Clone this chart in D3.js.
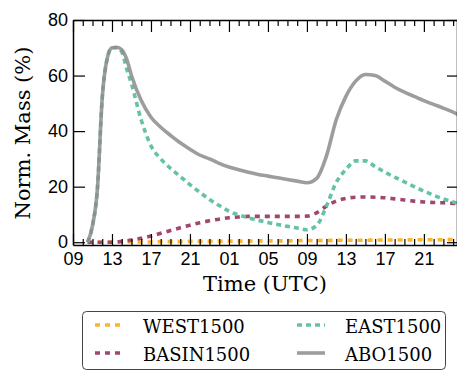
<!DOCTYPE html>
<html>
<head>
<meta charset="utf-8">
<script src="https://cdn.jsdelivr.net/npm/d3@7"></script>
<style>
  body { margin: 0; background: #fff; }
  svg { display: block; font-family: "DejaVu Serif", serif; }
</style>
</head>
<body>
<div id="chart"></div>
<script>
// hours since 09 UTC on day one
const hours = [1.5, 2, 2.5, 3, 3.5, 4, 4.5, 5, 5.5,
  6, 7, 8, 9, 10, 11, 12, 13, 14, 15, 16, 17, 18, 19, 20, 21, 22, 23, 24,
  25, 26, 27, 28, 29, 30, 31, 32, 33, 34, 35, 36, 37, 38, 39, 39.5];

const west = [0, 0, 0, 0, 0, 0.1, 0.1, 0.1, 0.1,
  0.1, 0.1, 0.1, 0.2, 0.2, 0.2, 0.3, 0.3, 0.3, 0.3, 0.4, 0.4, 0.4, 0.5, 0.5, 0.5, 0.5, 0.6, 0.6,
  0.6, 0.6, 0.7, 0.7, 0.7, 0.7, 0.8, 0.8, 0.8, 0.8, 0.9, 0.9, 0.9, 0.9, 1.0, 1.0];

const basin = [0, 0, 0, 0, 0, 0, 0.1, 0.3, 0.5,
  0.8, 1.4, 2.2, 3.2, 4.2, 5.2, 6.1, 7.0, 7.7, 8.3, 8.8, 9.1, 9.3, 9.3, 9.3, 9.3, 9.3, 9.3, 9.4,
  10.6, 13.0, 14.8, 15.8, 16.2, 16.3, 16.2, 16.0, 15.6, 15.2, 14.8, 14.5, 14.3, 14.2, 14.0, 14.0];

const east = [0, 6, 19, 52, 66, 70, 70, 68.5, 62.5,
  57, 44, 34.7, 30, 26.6, 23.7, 20.7, 18, 15.4, 13.2, 11.2, 9.8, 8.8, 7.9, 7.1, 6.4, 5.7, 5.1, 4.5,
  6, 13, 21.5, 26.2, 29.3, 29.3, 27.2, 25.2, 23.4, 21.7, 20, 18.4, 16.9, 15.6, 14.5, 14];

const abo = [0, 6, 19, 52, 66, 70, 70.2, 69.3, 66,
  60, 51, 45, 41.4, 38.5, 35.8, 33.5, 31.4, 30, 28.4, 27.1, 26.1, 25.2, 24.4, 23.8, 23.2, 22.6, 22, 21.4,
  23, 31, 44, 52.5, 58, 60.4, 60, 58, 55.8, 54, 52.5, 51, 49.6, 48.3, 46.8, 46];

const xTickHours = [0, 4, 8, 12, 16, 20, 24, 28, 32, 36];
const xTickLabels = ["09", "13", "17", "21", "01", "05", "09", "13", "17", "21"];
const yTicks = [0, 20, 40, 60, 80];

const seriesNames = ["WEST1500", "BASIN1500", "EAST1500", "ABO1500"];
const seriesValues = [west, basin, east, abo];
const seriesColors = ["#fdb42f", "#a1466f", "#66c2a5", "#8c8c8c"];
const seriesDash = ["5,5", "5,5", "5,4", null];

const width = 457;
const height = 373;
const margin = { top: 20, right: 0, bottom: 128, left: 73 };

const svg = d3.select("#chart")
  .append("svg")
  .attr("width", width)
  .attr("height", height);

const x = d3.scaleLinear()
  .domain([0, 39.5])
  .range([margin.left, 458]);

const y = d3.scaleLinear()
  .domain([-1, 80])
  .range([245, margin.top]);

svg.append("clipPath")
  .attr("id", "clip")
  .append("rect")
  .attr("x", x.range()[0])
  .attr("y", y.range()[1])
  .attr("width", x.range()[1] - x.range()[0])
  .attr("height", y.range()[0] - y.range()[1]);

const line = d3.line()
  .x(d => x(d[0]))
  .y(d => y(d[1]))
  .curve(d3.curveMonotoneX);

const plot = svg.append("g").attr("clip-path", "url(#clip)");

seriesValues.forEach((vals, i) => {
  plot.append("path")
    .datum(hours.map((h, j) => [h, vals[j]]))
    .attr("fill", "none")
    .attr("stroke", seriesColors[i])
    .attr("stroke-width", 3.6)
    .attr("stroke-opacity", i === 3 ? 0.85 : 1)
    .attr("stroke-dasharray", seriesDash[i])
    .attr("d", line);
});

// axes
const minorHours = d3.range(0, 40, 1);

svg.append("g")
  .attr("transform", `translate(0,${y.range()[0]})`)
  .call(d3.axisBottom(x).tickValues(xTickHours).tickFormat((d, i) => xTickLabels[i])
    .tickSizeInner(-11).tickSizeOuter(0).tickPadding(7))
  .call(g => g.selectAll("text").style("font-size", "18px").attr("fill", "#000"))
  .call(g => g.select(".domain").attr("stroke-width", 1.5));

svg.append("g")
  .attr("transform", `translate(0,${y.range()[0]})`)
  .call(d3.axisBottom(x).tickValues(minorHours.filter(h => h % 4 !== 0))
    .tickSizeInner(-6).tickSizeOuter(0).tickFormat(""))
  .call(g => g.select(".domain").remove());

svg.append("g")
  .attr("transform", `translate(0,${y.range()[1]})`)
  .call(d3.axisTop(x).tickValues(xTickHours).tickSizeInner(-12).tickSizeOuter(0).tickFormat(""))
  .call(g => g.select(".domain").attr("stroke-width", 1.5));

svg.append("g")
  .attr("transform", `translate(0,${y.range()[1]})`)
  .call(d3.axisTop(x).tickValues(minorHours.filter(h => h % 4 !== 0))
    .tickSizeInner(-6).tickSizeOuter(0).tickFormat(""))
  .call(g => g.select(".domain").remove());

svg.append("g")
  .attr("transform", `translate(${x.range()[0]},0)`)
  .call(d3.axisLeft(y).tickValues(yTicks).tickSizeInner(-12).tickSizeOuter(0).tickPadding(5))
  .call(g => g.selectAll("text").style("font-size", "18px").attr("fill", "#000"))
  .call(g => g.select(".domain").attr("stroke-width", 1.5));

svg.append("g")
  .attr("transform", `translate(${x.range()[1] - 1},0)`)
  .call(d3.axisRight(y).tickValues(yTicks).tickSizeInner(-10).tickSizeOuter(0).tickFormat(""))
  .call(g => g.select(".domain").attr("stroke-width", 1.5));

svg.selectAll(".tick line").attr("stroke", "#000").attr("stroke-width", 1.2);

svg.append("text")
  .attr("x", (73 + 457) / 2)
  .attr("y", 291)
  .attr("text-anchor", "middle")
  .style("font-size", "21px")
  .text("Time (UTC)");

svg.append("text")
  .attr("transform", "rotate(-90)")
  .attr("x", -133)
  .attr("y", 30)
  .attr("text-anchor", "middle")
  .style("font-size", "21px")
  .text("Norm. Mass (%)");

// legend
const legend = svg.append("g");

legend.append("rect")
  .attr("x", 82.5)
  .attr("y", 311.5)
  .attr("width", 363)
  .attr("height", 58)
  .attr("rx", 4)
  .attr("fill", "#fff")
  .attr("stroke", "#444")
  .attr("stroke-width", 1);

const legendOrder = [0, 2, 1, 3];
legendOrder.forEach((s, k) => {
  const col = k % 2;
  const row = Math.floor(k / 2);
  const lx = col === 0 ? 95 : 297;
  const ly = row === 0 ? 325 : 353;

  legend.append("line")
    .attr("x1", lx)
    .attr("x2", lx + 28)
    .attr("y1", ly)
    .attr("y2", ly)
    .attr("stroke", seriesColors[s])
    .attr("stroke-opacity", s === 3 ? 0.85 : 1)
    .attr("stroke-width", 3.6)
    .attr("stroke-dasharray", seriesDash[s]);

  legend.append("text")
    .attr("x", lx + 48)
    .attr("y", ly + 8)
    .style("font-size", "18px")
    .text(seriesNames[s]);
});
</script>
</body>
</html>
